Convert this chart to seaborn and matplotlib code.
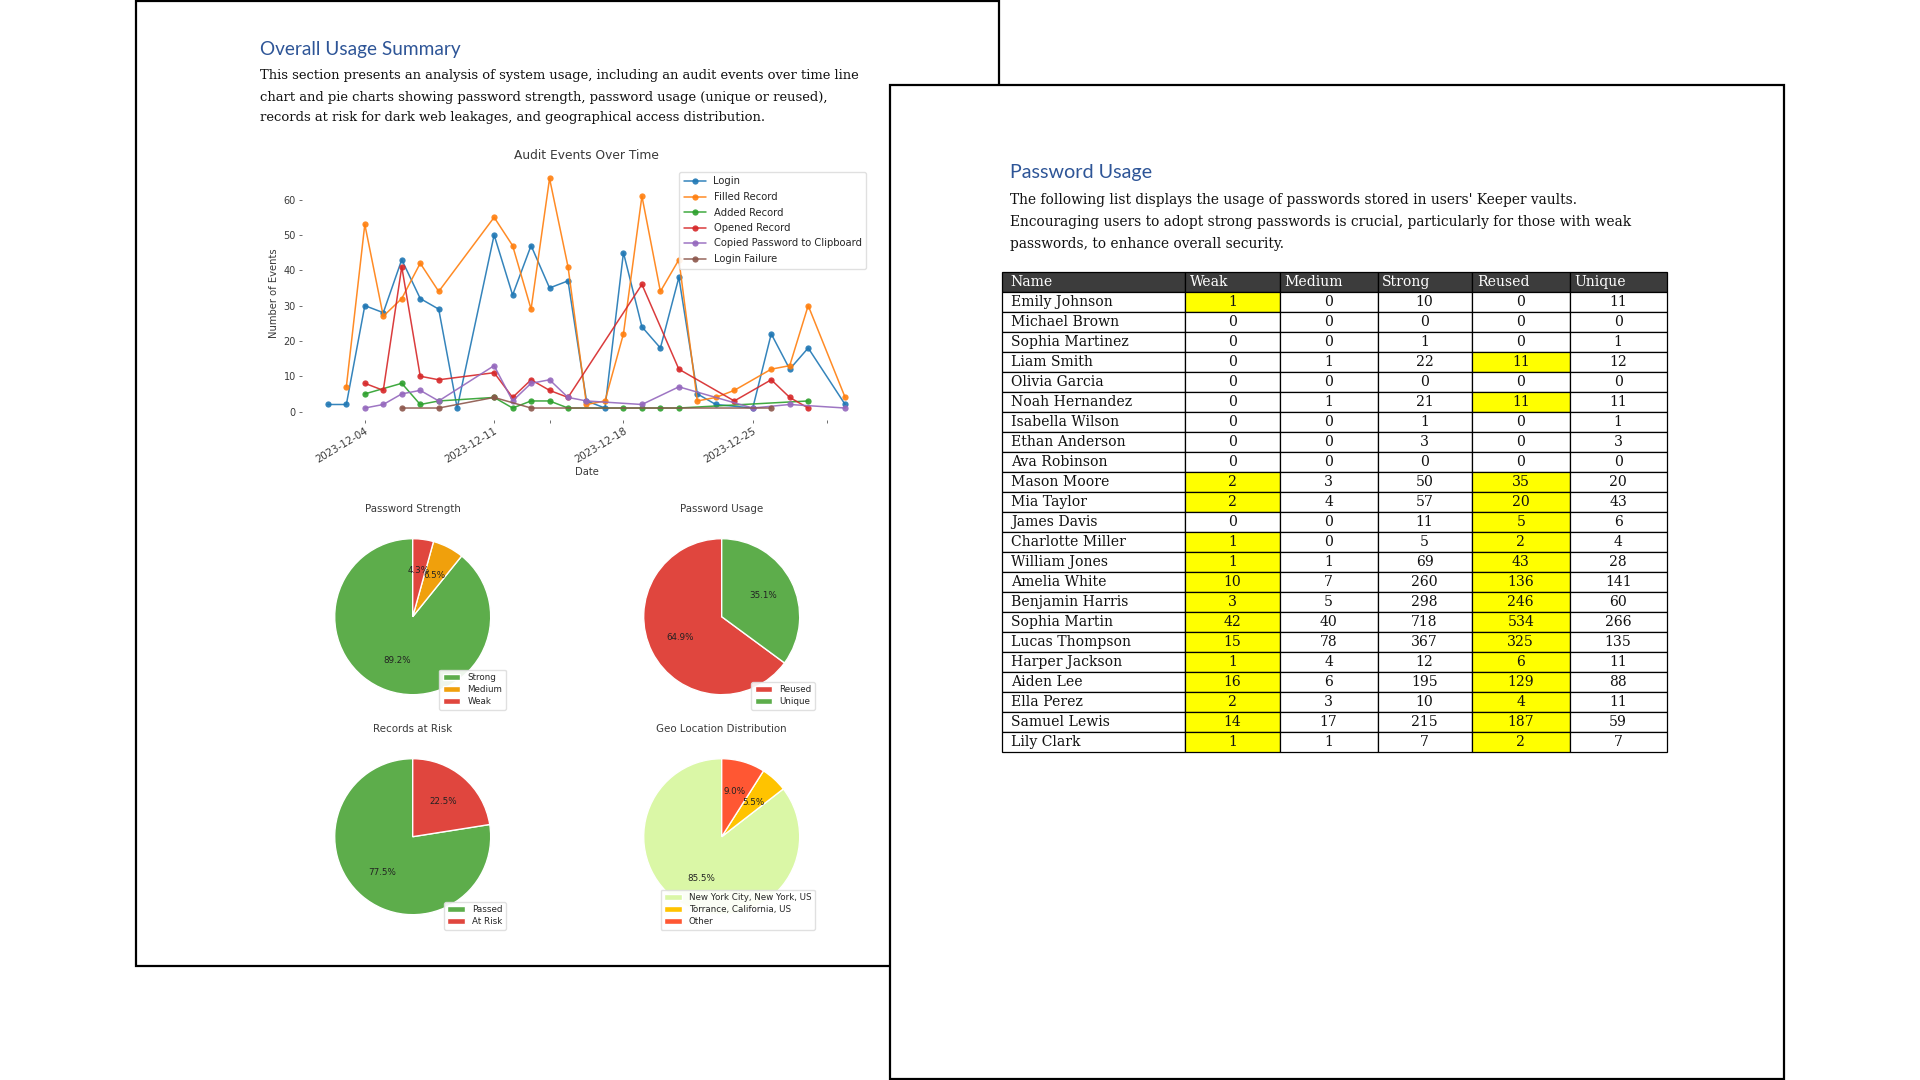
import matplotlib
matplotlib.use("Agg")
import matplotlib.pyplot as plt
import matplotlib.dates as mdates
from matplotlib.patches import Rectangle
import pandas as pd
import seaborn as sns

# ---------------- data ----------------
event_names = ["Login", "Filled Record", "Added Record", "Opened Record",
               "Copied Password to Clipboard", "Login Failure"]

login_days = [2, 3, 4, 5, 6, 7, 8, 9, 11, 12, 13, 14, 15, 16, 17, 18, 19, 20, 21, 22, 23, 25, 26, 27, 28, 30]
login_vals = [2, 2, 30, 28, 43, 32, 29, 1, 50, 33, 47, 35, 37, 3, 1, 45, 24, 18, 38, 5, 2, 1, 22, 12, 18, 2]

filled_days = [3, 4, 5, 6, 7, 8, 11, 12, 13, 14, 15, 16, 17, 18, 19, 20, 21, 22, 23, 24, 26, 27, 28, 30]
filled_vals = [7, 53, 27, 32, 42, 34, 55, 47, 29, 66, 41, 2, 3, 22, 61, 34, 43, 3, 4, 6, 12, 13, 30, 4]

added_days = [4, 6, 7, 8, 11, 12, 13, 14, 15, 18, 19, 20, 21, 28]
added_vals = [5, 8, 2, 3, 4, 1, 3, 3, 1, 1, 1, 1, 1, 3]

opened_days = [4, 5, 6, 7, 8, 11, 12, 13, 14, 15, 19, 21, 24, 26, 27, 28]
opened_vals = [8, 6, 41, 10, 9, 11, 4, 9, 6, 4, 36, 12, 3, 9, 4, 1]

copied_days = [4, 5, 6, 7, 8, 11, 12, 13, 14, 15, 16, 19, 21, 25, 27, 30]
copied_vals = [1, 2, 5, 6, 3, 13, 3, 8, 9, 4, 3, 2, 7, 1, 2, 1]

failure_days = [6, 8, 11, 13, 26]
failure_vals = [1, 1, 4, 1, 1]

major_tick_days = [4, 11, 18, 25]
minor_tick_days = [14, 29]

strength_labels = ["Strong", "Medium", "Weak"]
strength_vals = [89.2, 6.5, 4.3]
usage_labels = ["Reused", "Unique"]
usage_vals = [64.9, 35.1]
risk_labels = ["Passed", "At Risk"]
risk_vals = [77.5, 22.5]
geo_labels = ["New York City, New York, US", "Torrance, California, US", "Other"]
geo_vals = [85.5, 5.5, 9.0]

table_cols = ["Name", "Weak", "Medium", "Strong", "Reused", "Unique"]
names = ["Emily Johnson", "Michael Brown", "Sophia Martinez", "Liam Smith", "Olivia Garcia",
         "Noah Hernandez", "Isabella Wilson", "Ethan Anderson", "Ava Robinson", "Mason Moore",
         "Mia Taylor", "James Davis", "Charlotte Miller", "William Jones", "Amelia White",
         "Benjamin Harris", "Sophia Martin", "Lucas Thompson", "Harper Jackson", "Aiden Lee",
         "Ella Perez", "Samuel Lewis", "Lily Clark"]
weak = [1, 0, 0, 0, 0, 0, 0, 0, 0, 2, 2, 0, 1, 1, 10, 3, 42, 15, 1, 16, 2, 14, 1]
medium = [0, 0, 0, 1, 0, 1, 0, 0, 0, 3, 4, 0, 0, 1, 7, 5, 40, 78, 4, 6, 3, 17, 1]
strong = [10, 0, 1, 22, 0, 21, 1, 3, 0, 50, 57, 11, 5, 69, 260, 298, 718, 367, 12, 195, 10, 215, 7]
reused = [0, 0, 0, 11, 0, 11, 0, 0, 0, 35, 20, 5, 2, 43, 136, 246, 534, 325, 6, 129, 4, 187, 2]
unique = [11, 0, 1, 12, 0, 11, 1, 3, 0, 20, 43, 6, 4, 28, 141, 60, 266, 135, 11, 88, 11, 59, 7]

left_heading = "Overall Usage Summary"
left_body = ["This section presents an analysis of system usage, including an audit events over time line",
             "chart and pie charts showing password strength, password usage (unique or reused),",
             "records at risk for dark web leakages, and geographical access distribution."]
right_heading = "Password Usage"
right_body = ["The following list displays the usage of passwords stored in users' Keeper vaults.",
              "Encouraging users to adopt strong passwords is crucial, particularly for those with weak",
              "passwords, to enhance overall security."]

# ---------------- style ----------------
sns.set_theme(style="white")
plt.rcParams["font.family"] = ["DejaVu Sans"]

W, H = 1920, 1080
fig = plt.figure(figsize=(19.2, 10.8), dpi=100)
fig.patch.set_facecolor("white")


def fx(x):
    return x / W


def fy(y):
    return 1 - y / H


HEAD_COLOR = "#2e5597"
GREEN = "#5dad4b"
ORANGE = "#f0a00c"
RED = "#e0463e"
TXT = "#3a3a3a"

# ---------------- left page ----------------
bg = fig.add_axes([0, 0, 1, 1], zorder=0)
bg.set_xlim(0, W)
bg.set_ylim(H, 0)
bg.axis("off")
bg.add_patch(Rectangle((136, 1), 863, 965, facecolor="white", edgecolor="black", lw=1.6))
bg.text(259.5, 50, left_heading, fontsize=13.7, family="Lato", color=HEAD_COLOR, va="center", ha="left")
for i, line in enumerate(left_body):
    bg.text(259.5, 76 + 21 * i, line, fontsize=9.47, family="DejaVu Serif", color="#111111",
            va="center", ha="left")

# ---------------- line chart ----------------
ax = fig.add_axes([fx(302), fy(419.5), (871 - 302) / W, (419.5 - 167) / H], zorder=1)
series = [(login_days, login_vals), (filled_days, filled_vals), (added_days, added_vals),
          (opened_days, opened_vals), (copied_days, copied_vals), (failure_days, failure_vals)]
pal = sns.color_palette("tab10", 6)
for name, (days, vals), col in zip(event_names, series, pal):
    dates = pd.to_datetime([f"2023-12-{d:02d}" for d in days])
    sns.lineplot(x=dates, y=vals, marker="o", label=name, color=col, ax=ax,
                 markersize=4.5, linewidth=1.1, markeredgewidth=0, alpha=0.9)

for s in ax.spines.values():
    s.set_visible(False)
ax.set_facecolor("none")
ax.xaxis.set_major_locator(mdates.DayLocator(bymonthday=major_tick_days))
ax.xaxis.set_minor_locator(mdates.DayLocator(bymonthday=minor_tick_days))
ax.xaxis.set_major_formatter(mdates.DateFormatter("%Y-%m-%d"))
ax.set_yticks([0, 10, 20, 30, 40, 50, 60])
ax.tick_params(axis="both", which="both", length=2.5, width=0.6, color="#555555",
               labelsize=7, labelcolor=TXT, bottom=True, left=True, pad=2)
ax.tick_params(axis="x", labelsize=7.4)
plt.setp(ax.get_xticklabels(), rotation=31, ha="right", rotation_mode="anchor")
ax.set_title("Audit Events Over Time", fontsize=8.8, color=TXT, pad=6)
ax.set_xlabel("Date", fontsize=7.2, color=TXT, labelpad=2)
ax.set_ylabel("Number of Events", fontsize=7.2, color=TXT, labelpad=3)
ax.legend(loc="upper right", fontsize=7.2, frameon=True, framealpha=0.9, edgecolor="#dddddd",
          borderpad=0.45, labelspacing=0.55, handlelength=2.2)


# ---------------- pies ----------------
def draw_pie(cx, cy, vals, labels, colors, title):
    side = 195
    pax = fig.add_axes([fx(cx - side / 2), fy(cy + side / 2), side / W, side / H], zorder=1)
    wedges, _, _ = pax.pie(vals, colors=colors, startangle=90, autopct="%1.1f%%",
                           textprops={"fontsize": 6.3, "color": "#222222"})
    pax.set_title(title, fontsize=7.4, color=TXT, pad=5)
    pax.legend(wedges, labels, loc="lower right", fontsize=6.3, frameon=True, framealpha=0.9,
               edgecolor="#dddddd", borderpad=0.4, handlelength=2.0, labelspacing=0.35)
    return pax


draw_pie(412.7, 616.7, strength_vals, strength_labels, [GREEN, ORANGE, RED], "Password Strength")
draw_pie(721.7, 616.7, usage_vals, usage_labels, [RED, GREEN], "Password Usage")
draw_pie(412.7, 836.7, risk_vals, risk_labels, [GREEN, RED], "Records at Risk")
draw_pie(721.7, 836.7, geo_vals, geo_labels, ["#daf7a6", "#ffc300", "#ff5733"], "Geo Location Distribution")

# ---------------- right page ----------------
fg = fig.add_axes([0, 0, 1, 1], zorder=3)
fg.set_xlim(0, W)
fg.set_ylim(H, 0)
fg.axis("off")
fg.patch.set_alpha(0)
fg.add_patch(Rectangle((890, 84.5), 894, 994, facecolor="white", edgecolor="black", lw=1.6))
fg.text(1010, 172.6, right_heading, fontsize=14.2, family="Lato", color=HEAD_COLOR, va="center", ha="left")
for i, line in enumerate(right_body):
    fg.text(1010, 199.6 + 22.1 * i, line, fontsize=9.9, family="DejaVu Serif", color="#111111",
            va="center", ha="left")

# ---------------- table ----------------
tax = fig.add_axes([fx(1001.6), fy(751.8), (1666.5 - 1001.6) / W, (751.8 - 271.8) / H], zorder=4)
tax.axis("off")
rows = [[n, str(a), str(b), str(c), str(d), str(e)]
        for n, a, b, c, d, e in zip(names, weak, medium, strong, reused, unique)]
col_w = [183.7, 94.3, 97.9, 94.3, 98.0, 96.7]
tot = sum(col_w)
tbl = tax.table(cellText=rows, colLabels=table_cols, cellLoc="center", colLoc="left",
                colWidths=[w / tot for w in col_w], bbox=[0, 0, 1, 1])
tbl.auto_set_font_size(False)
YELLOW = "#ffff00"
for (r, c), cell in tbl.get_celld().items():
    cell.PAD = 0.05
    cell.set_edgecolor("black")
    cell.set_linewidth(0.9)
    txt = cell.get_text()
    txt.set_fontfamily("DejaVu Serif")
    txt.set_fontsize(10.1)
    if r == 0:
        cell.set_facecolor("#3c3c3c")
        txt.set_color("white")
        cell._loc = "left"
        txt.set_horizontalalignment("left")
    else:
        txt.set_color("#111111")
        if c == 0:
            cell._loc = "left"
            txt.set_horizontalalignment("left")
        highlight = (c == 1 and weak[r - 1] > 0) or (c == 4 and reused[r - 1] > 0)
        cell.set_facecolor(YELLOW if highlight else "white")

fig.savefig("out.png", dpi=100, facecolor="white")
